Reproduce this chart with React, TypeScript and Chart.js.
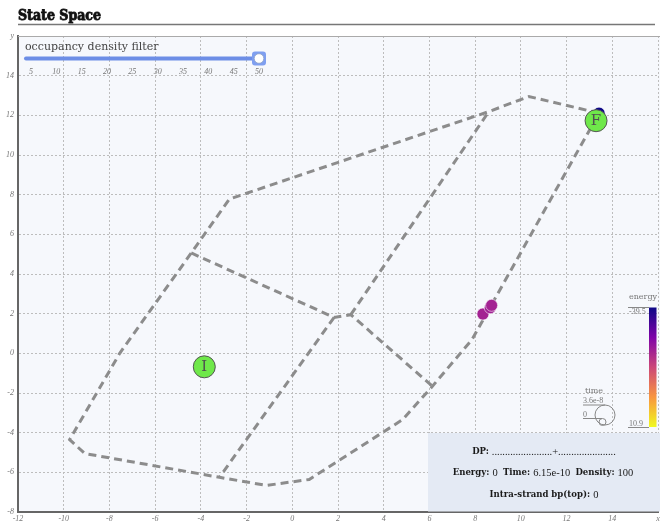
import React, { useEffect, useRef } from "react";
import { Chart, registerables } from "chart.js";

Chart.register(...registerables);

// Axis ranges and ticks
const xRange = [-12, 16];
const yRange = [-8, 16];
const tickStep = 2;

// Transition graph drawn as dashed paths (x, y in state-space coordinates)
const outerPathX = [13.42, 10.35, 8.6, -2.75, -4.42, -7.55, -9.74, -9.08, -3.19, -1.14, 0.74, 4.83, 6.13, 7.86, 13.42];
const outerPathY = [12.11, 12.95, 12.19, 7.78, 5.06, 0.0, -4.35, -5.05, -6.25, -6.66, -6.36, -3.34, -1.66, 0.69, 12.11];
const crossPathX = [-4.42, 1.83, 2.56, 6.13];
const crossPathY = [5.06, 1.81, 1.95, -1.66];
const lowerBranchX = [1.83, -3.19];
const lowerBranchY = [1.81, -6.25];
const upperBranchX = [2.56, 8.6];
const upperBranchY = [1.95, 12.19];

// Occupied states, coloured by energy
const stateX = [13.42, 8.34, 8.66, 8.72];
const stateY = [12.11, 1.98, 2.3, 2.42];
const stateEnergy = [-39.5, -21, -21.5, -21];

// Initial / final markers
const markerLabels = ["I", "F"];
const markerX = [-3.85, 13.29];
const markerY = [-0.68, 11.73];

// Energy colour scale bounds
const energyMin = -39.5;
const energyMax = 10.9;

// Time size legend
const timeMaxLabel = "3.6e-8";
const timeMinLabel = "0";

// Density filter slider
const sliderTicks = [5, 10, 15, 20, 25, 30, 35, 40, 45, 50];
const sliderValue = 50;

// Info panel
const dpStructure = ".......................+......................";
const infoEnergy = "0";
const infoTime = "6.15e-10";
const infoDensity = "100";
const infoIntraBp = "0";

const plasmaStops = ["#0d0887", "#7e03a8", "#cc4778", "#f89540", "#f0f921"];

function hexToRgb(h: string) {
  const n = parseInt(h.slice(1), 16);
  return [(n >> 16) & 255, (n >> 8) & 255, n & 255];
}

function plasma(t: number) {
  const c = Math.max(0, Math.min(1, t)) * (plasmaStops.length - 1);
  const i = Math.min(Math.floor(c), plasmaStops.length - 2);
  const f = c - i;
  const a = hexToRgb(plasmaStops[i]);
  const b = hexToRgb(plasmaStops[i + 1]);
  const m = a.map((v, k) => Math.round(v + (b[k] - v) * f));
  return `rgb(${m[0]},${m[1]},${m[2]})`;
}

function energyColor(e: number) {
  return plasma((e - energyMin) / (energyMax - energyMin));
}

function toPoints(xs: number[], ys: number[]) {
  return xs.map((x, i) => ({ x, y: ys[i] }));
}

function drawRuns(ctx: CanvasRenderingContext2D, runs: [string, string][], cx: number, y: number) {
  let total = 0;
  for (const [t, f] of runs) {
    ctx.font = f;
    total += ctx.measureText(t).width;
  }
  let x = cx - total / 2;
  ctx.textAlign = "left";
  ctx.textBaseline = "middle";
  for (const [t, f] of runs) {
    ctx.font = f;
    ctx.fillText(t, x, y);
    x += ctx.measureText(t).width;
  }
}

const BOLD = 'bold 9.5px "DejaVu Serif Condensed", "DejaVu Serif"';
const REG = '10.5px "Liberation Serif"';

const overlayPlugin = {
  id: "stateSpaceOverlay",
  beforeDraw(chart: any) {
    const { ctx, chartArea: a } = chart;
    ctx.save();
    ctx.fillStyle = "#f6f8fc";
    ctx.fillRect(a.left, a.top, chart.width - a.left, a.bottom - a.top);
    ctx.restore();
  },
  afterDatasetsDraw(chart: any) {
    const { ctx } = chart;
    const meta = chart.getDatasetMeta(0);
    ctx.save();
    ctx.fillStyle = "#505050";
    ctx.font = '15px "DejaVu Serif"';
    ctx.textAlign = "center";
    ctx.textBaseline = "middle";
    meta.data.forEach((el: any, i: number) => {
      ctx.fillText(markerLabels[i], el.x, el.y + 0.5);
    });
    ctx.restore();
  },
  afterDraw(chart: any) {
    const { ctx, chartArea: a } = chart;
    ctx.save();

    // title
    ctx.fillStyle = "#111";
    ctx.strokeStyle = "#111";
    ctx.lineWidth = 0.8;
    ctx.font = 'bold 14px "DejaVu Serif Condensed", "DejaVu Serif"';
    ctx.textAlign = "left";
    ctx.textBaseline = "alphabetic";
    ctx.fillText("State Space", 18, 19.5);
    ctx.strokeText("State Space", 18, 19.5);
    ctx.strokeStyle = "#777";
    ctx.lineWidth = 1.5;
    ctx.beginPath();
    ctx.moveTo(18, 24.5);
    ctx.lineTo(655, 24.5);
    ctx.stroke();

    // top frame line
    ctx.strokeStyle = "#aaa";
    ctx.lineWidth = 1;
    ctx.beginPath();
    ctx.moveTo(a.left, a.top + 0.5);
    ctx.lineTo(chart.width, a.top + 0.5);
    ctx.stroke();

    // density filter slider
    const sx = (v: number) => 31 + ((v - 5) * 228) / 45;
    ctx.fillStyle = "#444";
    ctx.font = '11px "DejaVu Serif"';
    ctx.textBaseline = "alphabetic";
    ctx.fillText("occupancy density filter", 25, 50);
    ctx.strokeStyle = "#6d8ee6";
    ctx.lineWidth = 4;
    ctx.lineCap = "round";
    ctx.beginPath();
    ctx.moveTo(26, 58.5);
    ctx.lineTo(sx(sliderValue), 58.5);
    ctx.stroke();
    ctx.lineCap = "butt";
    const tx = sx(sliderValue);
    ctx.fillStyle = "#7f9ff0";
    ctx.beginPath();
    ctx.roundRect(tx - 7, 51.5, 14, 14, 3);
    ctx.fill();
    ctx.fillStyle = "#fff";
    ctx.strokeStyle = "#8aa0c8";
    ctx.lineWidth = 0.8;
    ctx.beginPath();
    ctx.arc(tx, 58.5, 4.8, 0, Math.PI * 2);
    ctx.fill();
    ctx.stroke();
    ctx.fillStyle = "#777";
    ctx.font = 'italic 8px "Liberation Serif"';
    ctx.textAlign = "center";
    ctx.textBaseline = "middle";
    sliderTicks.forEach((t) => ctx.fillText(String(t), sx(t), 72));

    // info panel
    ctx.fillStyle = "#e4eaf4";
    ctx.fillRect(428, 433, chart.width - 428, 78.5);
    ctx.fillStyle = "#1a1a1a";
    drawRuns(ctx, [["DP: ", BOLD], [dpStructure, REG]], 544, 452);
    drawRuns(
      ctx,
      [
        ["Energy: ", BOLD],
        [infoEnergy + "  ", REG],
        ["Time: ", BOLD],
        [infoTime + "  ", REG],
        ["Density: ", BOLD],
        [infoDensity, REG],
      ],
      543,
      473
    );
    drawRuns(ctx, [["Intra-strand bp(top): ", BOLD], [infoIntraBp, REG]], 544, 495);

    // energy colour bar
    const barTop = 307.5;
    const barBot = 427;
    const grad = ctx.createLinearGradient(0, barTop, 0, barBot);
    plasmaStops.forEach((c, i) => grad.addColorStop(i / (plasmaStops.length - 1), c));
    ctx.fillStyle = grad;
    ctx.fillRect(649, barTop, 7.5, barBot - barTop);
    ctx.fillStyle = "#777";
    ctx.font = '8px "DejaVu Serif"';
    ctx.textAlign = "center";
    ctx.textBaseline = "alphabetic";
    ctx.fillText("energy", 643, 299);
    ctx.textAlign = "left";
    ctx.font = '8px "Liberation Serif"';
    ctx.fillText(String(energyMin), 629, 314);
    ctx.fillText(String(energyMax), 629, 426);
    ctx.strokeStyle = "#888";
    ctx.lineWidth = 1;
    ctx.beginPath();
    ctx.moveTo(628, barTop);
    ctx.lineTo(649, barTop);
    ctx.moveTo(628, barBot + 0.5);
    ctx.lineTo(649, barBot + 0.5);
    ctx.stroke();

    // time size legend
    ctx.fillStyle = "#777";
    ctx.font = '8px "DejaVu Serif"';
    ctx.textAlign = "center";
    ctx.fillText("time", 594, 393);
    ctx.font = '8px "Liberation Serif"';
    ctx.textAlign = "left";
    ctx.fillText(timeMaxLabel, 583, 403);
    ctx.fillText(timeMinLabel, 583, 417);
    ctx.strokeStyle = "#888";
    ctx.beginPath();
    ctx.moveTo(583, 405);
    ctx.lineTo(605, 405);
    ctx.moveTo(583, 418.5);
    ctx.lineTo(602, 418.5);
    ctx.stroke();
    ctx.beginPath();
    ctx.arc(605, 415, 10, 0, Math.PI * 2);
    ctx.stroke();
    ctx.beginPath();
    ctx.arc(602.5, 422, 3.5, 0, Math.PI * 2);
    ctx.stroke();

    ctx.restore();
  },
};

export default function App() {
  const canvasRef = useRef<HTMLCanvasElement | null>(null);

  useEffect(() => {
    const canvas = canvasRef.current;
    if (!canvas) return;

    const dashed = {
      type: "scatter" as const,
      showLine: true,
      borderColor: "#8c8c8c",
      borderWidth: 3,
      borderDash: [8, 5],
      pointRadius: 0,
      tension: 0,
      fill: false,
      order: 3,
    };

    const chart = new Chart(canvas, {
      type: "scatter",
      data: {
        datasets: [
          {
            data: toPoints(markerX, markerY),
            backgroundColor: "#6fe84a",
            borderColor: "#555",
            borderWidth: 1,
            pointRadius: 11,
            order: 0,
          },
          {
            data: toPoints(stateX, stateY),
            backgroundColor: stateEnergy.map((e) => energyColor(e)),
            borderColor: "rgba(255,255,255,0.55)",
            borderWidth: 1,
            pointRadius: 6,
            order: 1,
          },
          { ...dashed, data: toPoints(outerPathX, outerPathY) },
          { ...dashed, data: toPoints(crossPathX, crossPathY) },
          { ...dashed, data: toPoints(lowerBranchX, lowerBranchY) },
          { ...dashed, data: toPoints(upperBranchX, upperBranchY) },
        ] as any,
      },
      options: {
        animation: false,
        responsive: false,
        events: [],
        layout: { autoPadding: false, padding: { top: 36, right: 2, left: 0, bottom: 0 } },
        plugins: { legend: { display: false }, tooltip: { enabled: false } },
        scales: {
          x: {
            type: "linear",
            min: xRange[0],
            max: xRange[1],
            afterFit(scale: any) {
              scale.height = 9;
              scale.paddingLeft = 0;
              scale.paddingRight = 0;
            },
            ticks: {
              stepSize: tickStep,
              padding: 2,
              maxRotation: 0,
              autoSkip: false,
              color: "#777",
              font: { family: "Liberation Serif", size: 8, style: "italic" },
              callback: (v: any) => (v === xRange[1] ? "x" : String(v)),
            },
            grid: { color: "#bdbdbd", lineWidth: 1, drawTicks: false },
            border: { display: true, color: "#666", width: 2, dash: [2, 2] },
          },
          y: {
            type: "linear",
            min: yRange[0],
            max: yRange[1],
            afterFit(scale: any) {
              scale.width = 18;
              scale.paddingTop = 0;
              scale.paddingBottom = 0;
            },
            ticks: {
              stepSize: tickStep,
              padding: 4,
              autoSkip: false,
              color: "#777",
              font: { family: "Liberation Serif", size: 8, style: "italic" },
              callback: (v: any) => (v === yRange[1] ? "y" : String(v)),
            },
            grid: { color: "#bdbdbd", lineWidth: 1, drawTicks: false },
            border: { display: true, color: "#666", width: 2, dash: [2, 2] },
          },
        },
      },
      plugins: [overlayPlugin],
    });

    return () => chart.destroy();
  }, []);

  return (
    <div style={{ position: "absolute", left: 0, top: 0, width: 660, height: 521, background: "#fff" }}>
      <canvas ref={canvasRef} width={660} height={521} />
    </div>
  );
}
